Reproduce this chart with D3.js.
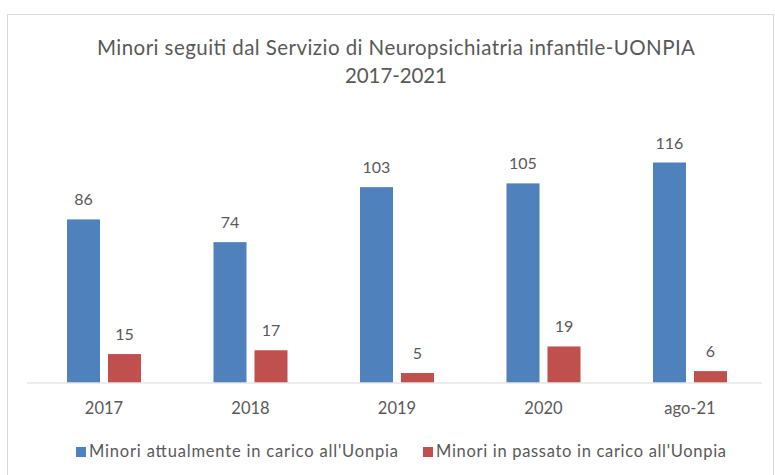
<!DOCTYPE html>
<html>
<head>
<meta charset="utf-8">
<script src="https://cdn.jsdelivr.net/npm/d3@7"></script>
<style>
  body { margin: 0; background: #fff; }
  text { font-family: Lato, "Open Sans", sans-serif; fill: #595959; }
</style>
</head>
<body>
<div id="chart"></div>
<script>
// Data
const categories = ["2017", "2018", "2019", "2020", "ago-21"];
const seriesNames = ["Minori attualmente in carico all'Uonpia", "Minori in passato in carico all'Uonpia"];
const attuali = [86, 74, 103, 105, 116];
const passati = [15, 17, 5, 19, 6];
const titleLines = ["Minori seguiti dal Servizio di Neuropsichiatria infantile-UONPIA", "2017-2021"];

const colors = ["#4f81bd", "#c0504d"];

const width = 775, height = 475;
const plot = { left: 30.75, right: 763.25, top: 117, bottom: 382.5 };

const svg = d3.select("#chart")
  .append("svg")
  .attr("width", width)
  .attr("height", height);

// chart frame
svg.append("rect")
  .attr("x", 7.5).attr("y", 14.5)
  .attr("width", 766).attr("height", 470)
  .attr("fill", "#fff")
  .attr("stroke", "#d9d9d9");

// title (line widths matched to the reference)
const titleWidths = [598, 102];
svg.append("g")
  .selectAll("text")
  .data(titleLines)
  .join("text")
  .attr("x", 396)
  .attr("y", (d, i) => 55 + i * 28)
  .attr("text-anchor", "middle")
  .attr("textLength", (d, i) => titleWidths[i])
  .attr("lengthAdjust", "spacing")
  .style("font-size", "20.5px")
  .text(d => d);

const x0 = d3.scaleBand()
  .domain(categories)
  .range([plot.left, plot.right]);

const x1 = d3.scaleBand()
  .domain([0, 1])
  .range([0, x0.bandwidth()])
  .paddingInner(0.195)
  .paddingOuter(0.884);

const y = d3.scaleLinear()
  .domain([0, 140])
  .range([plot.bottom, plot.top]);

const rows = categories.map((c, i) => ({ cat: c, values: [attuali[i], passati[i]] }));

const groups = svg.append("g")
  .selectAll("g")
  .data(rows)
  .join("g")
  .attr("transform", d => "translate(" + x0(d.cat) + ",0)");

groups.selectAll("rect")
  .data(d => d.values.map((v, k) => ({ k: k, v: v })))
  .join("rect")
  .attr("x", d => x1(d.k))
  .attr("y", d => y(d.v))
  .attr("width", x1.bandwidth())
  .attr("height", d => y(0) - y(d.v))
  .attr("fill", d => colors[d.k]);

groups.selectAll("text.val")
  .data(d => d.values.map((v, k) => ({ k: k, v: v })))
  .join("text")
  .attr("class", "val")
  .attr("x", d => x1(d.k) + x1.bandwidth() / 2)
  .attr("y", d => y(d.v) - 14)
  .attr("text-anchor", "middle")
  .style("font-size", "16px")
  .text(d => d.v);

// x axis
const xAxis = svg.append("g")
  .attr("transform", "translate(0," + plot.bottom + ")")
  .call(d3.axisBottom(x0).tickSize(0).tickPadding(20));
xAxis.select(".domain").attr("stroke", "#d9d9d9").attr("d", "M27,0.5H762");
xAxis.selectAll("text")
  .style("font-size", "16.5px")
  .style("font-family", "Lato, sans-serif")
  .attr("fill", "#595959");

// legend
const legendX = [76, 423];
const legendWidths = [309, 290];
const legend = svg.append("g")
  .selectAll("g")
  .data(seriesNames)
  .join("g")
  .attr("transform", (d, i) => "translate(" + legendX[i] + ",447)");
legend.append("rect")
  .attr("width", 10).attr("height", 10)
  .attr("fill", (d, i) => colors[i]);
legend.append("text")
  .attr("x", 13).attr("y", 9.5)
  .attr("textLength", (d, i) => legendWidths[i])
  .attr("lengthAdjust", "spacing")
  .style("font-size", "16.5px")
  .text(d => d);
</script>
</body>
</html>
